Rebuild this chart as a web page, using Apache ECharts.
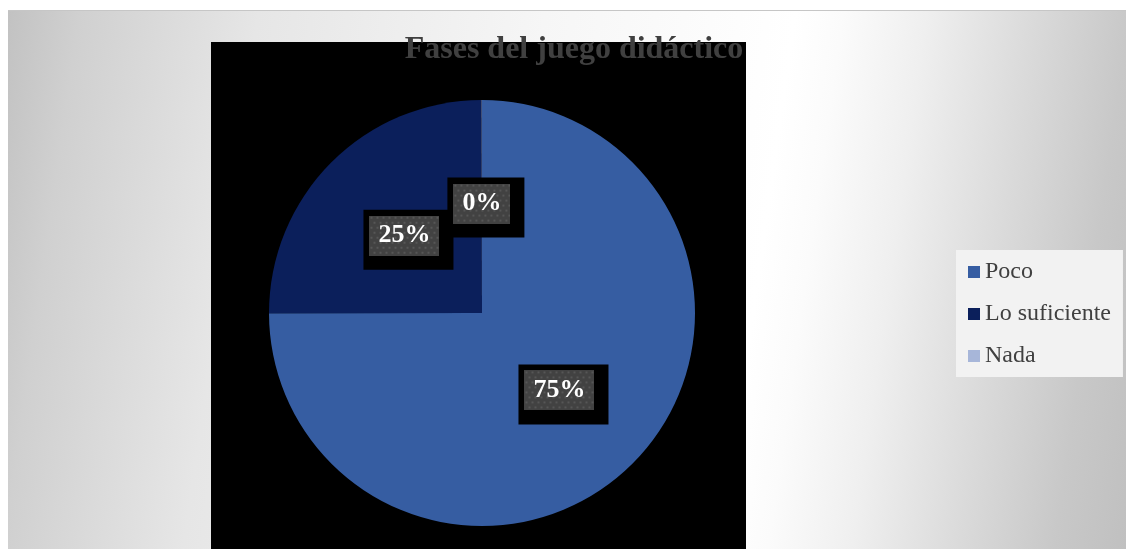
<!DOCTYPE html>
<html>
<head>
<meta charset="utf-8">
<script src="https://cdn.jsdelivr.net/npm/echarts@6/dist/echarts.min.js"></script>
<style>
  html, body { margin: 0; padding: 0; background: #ffffff; }
  #frame {
    position: absolute; left: 8px; top: 10px; width: 1118px; height: 538px;
    border-top: 1px solid #c6c6c6;
    background: linear-gradient(98deg, #c2c2c2 0%, #d0d0d0 6%, #e6e6e6 21%, #f6f6f6 45%, #ffffff 66%, #fbfbfb 70%, #efefef 77%, #dadada 86%, #c8c8c8 94%, #c0c0c0 100%);
  }
  #chart { position: absolute; left: 0; top: 0; width: 1126px; height: 549px; }
</style>
</head>
<body>
<div id="frame"></div>
<div id="chart"></div>
<script>
  // Chart content
  const chartTitle = 'Fases del juego didáctico';
  const categories = ['Poco', 'Lo suficiente', 'Nada'];
  const percentages = [75, 25, 0];
  const sliceColors = ['#365da2', '#0b1f5b', '#a7b6d9'];

  // Dotted dark fill used behind the data labels
  function dottedFill(w, h) {
    const c = document.createElement('canvas');
    c.width = w; c.height = h;
    const g = c.getContext('2d');
    g.fillStyle = '#424242';
    g.fillRect(0, 0, w, h);
    g.fillStyle = '#565656';
    let row = 0;
    for (let y = 1; y < h; y += 5, row++) {
      for (let x = (row % 2 ? 4 : 1); x < w; x += 6) {
        g.fillRect(x, y, 2, 2);
      }
    }
    return c;
  }

  const chart = echarts.init(document.getElementById('chart'), null, { renderer: 'canvas' });

  const serif = '"Liberation Serif", "Times New Roman", serif';

  // Label token styles: one per digit count so the dotted box hugs the text
  const tokenBase = {
    color: '#ffffff', fontFamily: serif, fontWeight: 'bold',
    fontSize: 26, lineHeight: 40, align: 'center',
    padding: [7, 9, 7, 9]
  };
  const richStyles = {
    d1: Object.assign({}, tokenBase, { width: 39, backgroundColor: { image: dottedFill(57, 40) } }),
    d2: Object.assign({}, tokenBase, { width: 52, backgroundColor: { image: dottedFill(70, 40) } }),
    d3: Object.assign({}, tokenBase, { width: 65, backgroundColor: { image: dottedFill(83, 40) } })
  };

  chart.setOption({
    animation: false,
    backgroundColor: 'transparent',
    graphic: [
      {
        type: 'rect', z: 0, silent: true,
        shape: { x: 211, y: 42, width: 535, height: 507 },
        style: { fill: '#000000' }
      },
      {
        type: 'text', z: 10, silent: true,
        style: {
          text: chartTitle, x: 574, y: 50,
          align: 'center', verticalAlign: 'middle',
          font: 'bold 32px ' + serif, fill: '#404040'
        }
      }
    ],
    legend: {
      orient: 'vertical',
      left: 956, top: 250,
      backgroundColor: '#f2f2f2',
      padding: [10, 12, 9, 12],
      itemWidth: 12, itemHeight: 12, itemGap: 18,
      icon: 'rect',
      selectedMode: false,
      textStyle: { fontFamily: serif, fontSize: 24, lineHeight: 24, color: '#404040' },
      data: categories
    },
    series: [{
      type: 'pie',
      center: [482, 313],
      radius: 213,
      startAngle: 90,
      clockwise: true,
      minAngle: 0.1,
      avoidLabelOverlap: false,
      minShowLabelAngle: 0,
      itemStyle: { borderWidth: 0 },
      emphasis: { disabled: true },
      labelLine: { show: false },
      label: {
        show: true,
        position: 'inside',
        offset: [4, 4],
        backgroundColor: '#000000',
        padding: [6, 14, 14, 6],
        formatter: p => {
          const txt = p.value + '%';
          return '{d' + String(p.value).length + '|' + txt + '}';
        },
        rich: richStyles
      },
      data: categories.map((name, i) => ({
        name: name,
        value: percentages[i],
        itemStyle: { color: sliceColors[i] }
      }))
    }]
  });

  // The pie hides the label of an empty (0 %) slice; keep it visible
  (function () {
    const data = chart.getModel().getSeriesByIndex(0).getData();
    data.each(idx => {
      const el = data.getItemGraphicEl(idx);
      const t = el && el.getTextContent();
      if (t && (t.ignore || t.invisible)) {
        t.ignore = false;
        t.invisible = false;
        t.markRedraw();
      }
    });
    chart.getZr().refresh();
  })();
</script>
</body>
</html>
